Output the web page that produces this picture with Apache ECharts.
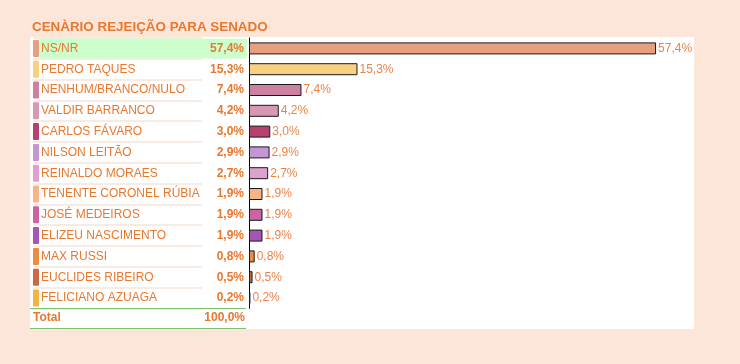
<!DOCTYPE html>
<html><head><meta charset="utf-8">
<script src="https://cdn.jsdelivr.net/npm/echarts@6/dist/echarts.min.js"></script>
<style>html,body{margin:0;padding:0;background:#fce6d9;}#c{width:740px;height:364px;}</style>
</head><body><div id="c"></div>
<script>
var title = 'CENÀRIO REJEIÇÃO PARA SENADO';
var categories = ['NS/NR','PEDRO TAQUES','NENHUM/BRANCO/NULO','VALDIR BARRANCO','CARLOS FÁVARO','NILSON LEITÃO','REINALDO MORAES','TENENTE CORONEL RÚBIA','JOSÉ MEDEIROS','ELIZEU NASCIMENTO','MAX RUSSI','EUCLIDES RIBEIRO','FELICIANO AZUAGA'];
var values = [57.4,15.3,7.4,4.2,3.0,2.9,2.7,1.9,1.9,1.9,0.8,0.5,0.2];
var colors = ['#e6a080','#f8d082','#cc80a2','#d898b4','#b8406c','#c496d4','#dca2cc','#f8b484','#cc64a4','#a456b4','#ec8c44','#c86a44','#f2b444'];
var totalLabel = 'Total';
var totalValue = '100,0%';

function fmt(v){ return v.toFixed(1).replace('.', ',') + '%'; }

var txt = '#e8782e';
var rich = {
  g: {width: 2, height: 20},
  gh: {width: 2, height: 20, backgroundColor: '#ccffcc'},
  n: {width: 160, fontSize: 12, color: txt, fontFamily: 'Liberation Sans, Arial', height: 20, lineHeight: 20},
  nh: {width: 160, fontSize: 12, color: txt, fontFamily: 'Liberation Sans, Arial', height: 20, lineHeight: 20, backgroundColor: '#ccffcc'},
  v: {width: 43, align: 'right', fontSize: 12, fontWeight: 'bold', color: txt, fontFamily: 'Liberation Sans, Arial', height: 20, lineHeight: 20},
  vh: {width: 43, align: 'right', fontSize: 12, fontWeight: 'bold', color: txt, fontFamily: 'Liberation Sans, Arial', height: 20, lineHeight: 20, backgroundColor: '#ccffcc', padding: [0, 3, 0, 0]}
};
colors.forEach(function(c, i){ rich['s' + i] = {width: 6, height: 17, backgroundColor: c, borderRadius: 1}; });

var chart = echarts.init(document.getElementById('c'), null, {renderer: 'canvas'});
chart.setOption({
  backgroundColor: '#fce6d9',
  animation: false,
  title: {text: title, left: 32, top: 21, padding: 0, textStyle: {color: txt, fontSize: 13.4, fontWeight: 'bold', fontFamily: 'Liberation Sans, Arial'}},
  graphic: [
    {type: 'rect', shape: {x: 30, y: 37, width: 664, height: 292}, style: {fill: '#ffffff'}, z: -10, silent: true},
    {type: 'line', shape: {x1: 30, y1: 308.5, x2: 246, y2: 308.5}, style: {stroke: '#7cc26a', lineWidth: 1}, z: 5},
    {type: 'line', shape: {x1: 30, y1: 328.5, x2: 246, y2: 328.5}, style: {stroke: '#7cc26a', lineWidth: 1}, z: 5},
    {type: 'text', left: 33, top: 312, style: {text: totalLabel, fill: txt, font: 'bold 12px Liberation Sans, Arial'}},
    {type: 'text', right: 740 - 245, top: 312, style: {text: totalValue, fill: txt, font: 'bold 12px Liberation Sans, Arial', textAlign: 'right'}}
  ],
  grid: [
    {left: 249, top: 38, width: 425.5, height: 270.4, containLabel: false},
    {left: 33, top: 38, width: 169, height: 270.4, containLabel: false}
  ],
  xAxis: [
    {gridIndex: 0, type: 'value', min: 0, max: 60, show: false},
    {gridIndex: 1, type: 'value', min: 0, max: 1, show: false}
  ],
  yAxis: [
    {gridIndex: 0, type: 'category', inverse: true, data: categories,
     axisLine: {show: true, lineStyle: {color: '#000', width: 1}}, axisTick: {show: false}, splitLine: {show: false},
     axisLabel: {show: true, align: 'left', margin: 216, rich: rich,
       formatter: function(val, i){
         var h = i === 0 ? 'h' : '';
         return '{s' + i + '|}{g' + h + '|}{n' + h + '|' + val + '}{v' + h + '|' + fmt(values[i]) + '}';
       }}},
    {gridIndex: 1, type: 'category', inverse: true, data: categories,
     axisLine: {show: false}, axisTick: {show: false}, axisLabel: {show: false},
     splitLine: {show: true, lineStyle: {color: '#f7ebe3', width: 2}}}
  ],
  series: [
    {type: 'bar', xAxisIndex: 0, yAxisIndex: 0, barWidth: 12,
     data: values.map(function(v, i){ return {value: v, itemStyle: {color: colors[i]}}; }),
     itemStyle: {borderColor: '#1a1a1a', borderWidth: 1},
     label: {show: true, position: 'right', distance: 2, color: '#e8844a', fontSize: 12, fontFamily: 'Liberation Sans, Arial',
       formatter: function(p){ return fmt(p.value); }}},
    {type: 'bar', xAxisIndex: 1, yAxisIndex: 1, data: values.map(function(){ return 0; }), silent: true}
  ]
});
</script></body></html>
